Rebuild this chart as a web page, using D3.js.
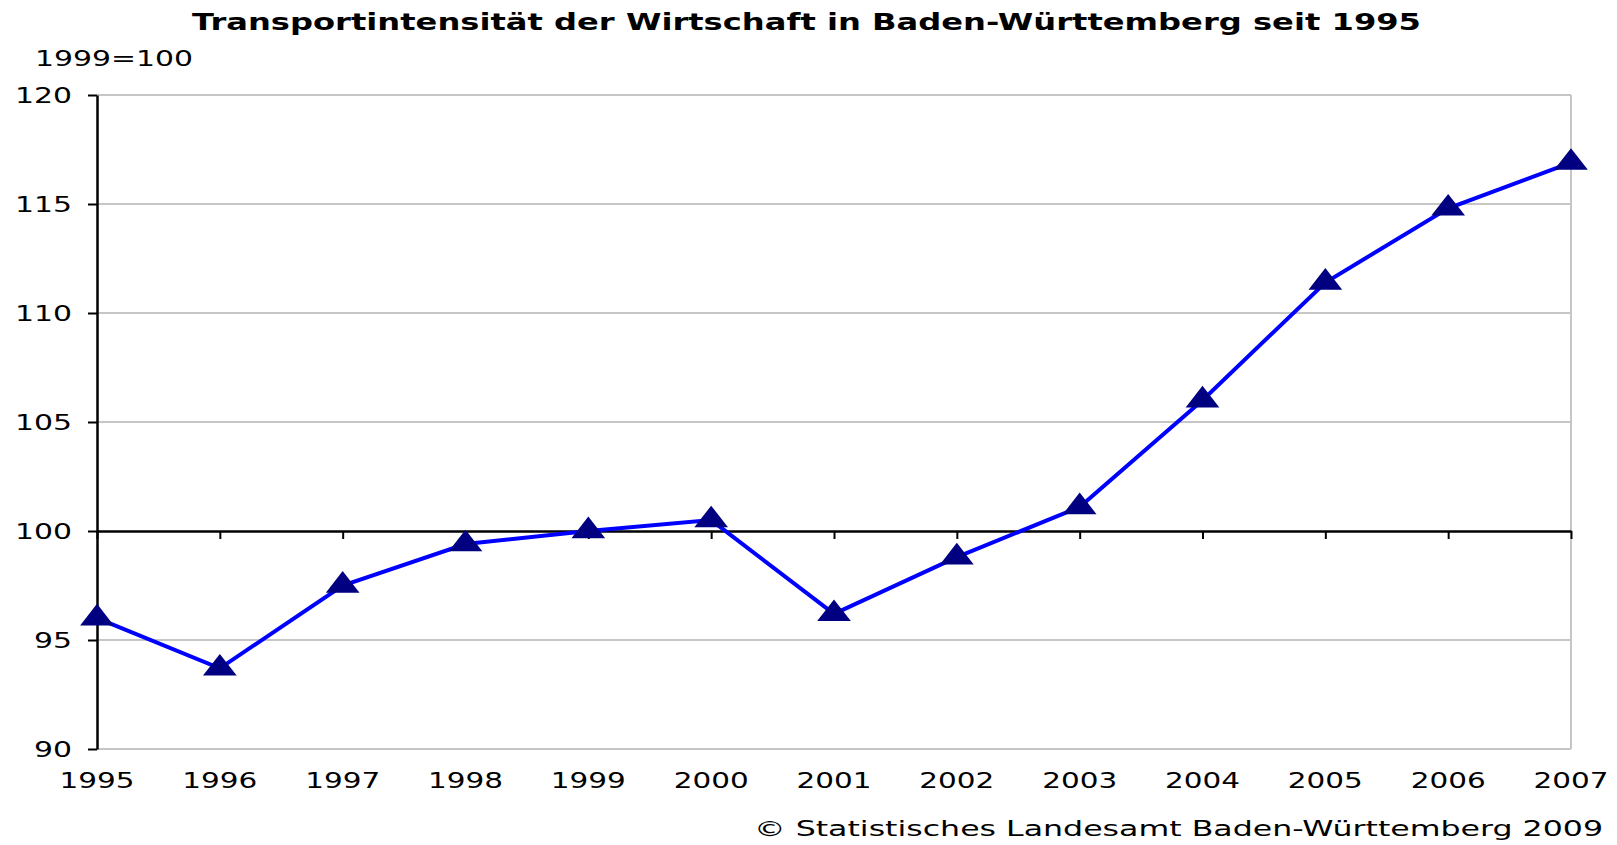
<!DOCTYPE html>
<html><head><meta charset="utf-8">
<script src="https://cdn.jsdelivr.net/npm/d3@7"></script>
<style>
html,body{margin:0;padding:0;background:#fff;}
svg{display:block;}
text{font-family:"DejaVu Sans",Verdana,sans-serif;fill:#000;}
</style></head>
<body>
<script>
const years = [1995,1996,1997,1998,1999,2000,2001,2002,2003,2004,2005,2006,2007];
const values = [96.0,93.7,97.5,99.4,100.0,100.5,96.2,98.8,101.1,106.0,111.4,114.8,116.9];
const yTicks = [90,95,100,105,110,115,120];
const titleText = "Transportintensität der Wirtschaft in Baden-Württemberg seit 1995";
const unitText = "1999=100";
const sourceText = "© Statistisches Landesamt Baden-Württemberg 2009";

const W = 1617, H = 845;
const svg = d3.select("body").append("svg").attr("width", W).attr("height", H);

const x = d3.scalePoint().domain(years).range([97, 1571]);
const y = d3.scaleLinear().domain([90, 120]).range([749, 95]);

// gridlines
svg.append("g").selectAll("line").data(yTicks.filter(d => d !== 100)).join("line")
  .attr("x1", 97).attr("x2", 1571)
  .attr("y1", d => y(d)).attr("y2", d => y(d))
  .attr("stroke", "#c6c6c6").attr("stroke-width", 2);
// right border
svg.append("line").attr("x1", 1571).attr("x2", 1571).attr("y1", y(120)).attr("y2", y(90))
  .attr("stroke", "#c6c6c6").attr("stroke-width", 2);

// y axis
const yAxis = svg.append("g").attr("transform", "translate(97,0)")
  .call(d3.axisLeft(y).tickValues(yTicks).tickSize(9).tickPadding(16).tickSizeOuter(0));
yAxis.select(".domain").attr("stroke", "#000").attr("stroke-width", 2.5);
yAxis.selectAll(".tick line").attr("stroke", "#000").attr("stroke-width", 2);
yAxis.selectAll(".tick text").attr("font-size", 22).attr("font-family", "DejaVu Sans")
  .attr("fill", "#000")
  .attr("textLength", d => String(d).length * 19).attr("lengthAdjust", "spacingAndGlyphs");

// x axis at 100
const xAxis = svg.append("g").attr("transform", `translate(0,${y(100)})`)
  .call(d3.axisBottom(x).tickSize(8).tickSizeOuter(0).tickFormat(""));
xAxis.select(".domain").attr("stroke", "#000").attr("stroke-width", 2.5);
xAxis.selectAll(".tick line").attr("stroke", "#000").attr("stroke-width", 2);

// x labels at bottom
svg.append("g").selectAll("text").data(years).join("text")
  .attr("x", d => x(d)).attr("y", 788)
  .attr("text-anchor", "middle").attr("font-size", 22)
  .attr("textLength", 75).attr("lengthAdjust", "spacingAndGlyphs")
  .text(d => d);

// line
svg.append("path").datum(values)
  .attr("d", d3.line().x((d, i) => x(years[i])).y(d => y(d)))
  .attr("fill", "none").attr("stroke", "#0000ff").attr("stroke-width", 4);

// markers
const tri = d3.symbol().type(d3.symbolTriangle).size(300);
svg.append("g").selectAll("path").data(values).join("path")
  .attr("d", tri)
  .attr("transform", (d, i) => `translate(${x(years[i])},${y(d)}) scale(1.28,0.95)`)
  .attr("fill", "#000080");

// texts
svg.append("text").attr("x", 192).attr("y", 30).attr("font-size", 23).attr("font-weight", "bold")
  .attr("textLength", 1229).attr("lengthAdjust", "spacingAndGlyphs").text(titleText);
svg.append("text").attr("x", 35).attr("y", 66).attr("font-size", 22)
  .attr("textLength", 158).attr("lengthAdjust", "spacingAndGlyphs").text(unitText);
svg.append("text").attr("x", 1603).attr("y", 836).attr("font-size", 22).attr("text-anchor", "end")
  .attr("textLength", 849).attr("lengthAdjust", "spacingAndGlyphs").text(sourceText);
</script>
</body></html>
